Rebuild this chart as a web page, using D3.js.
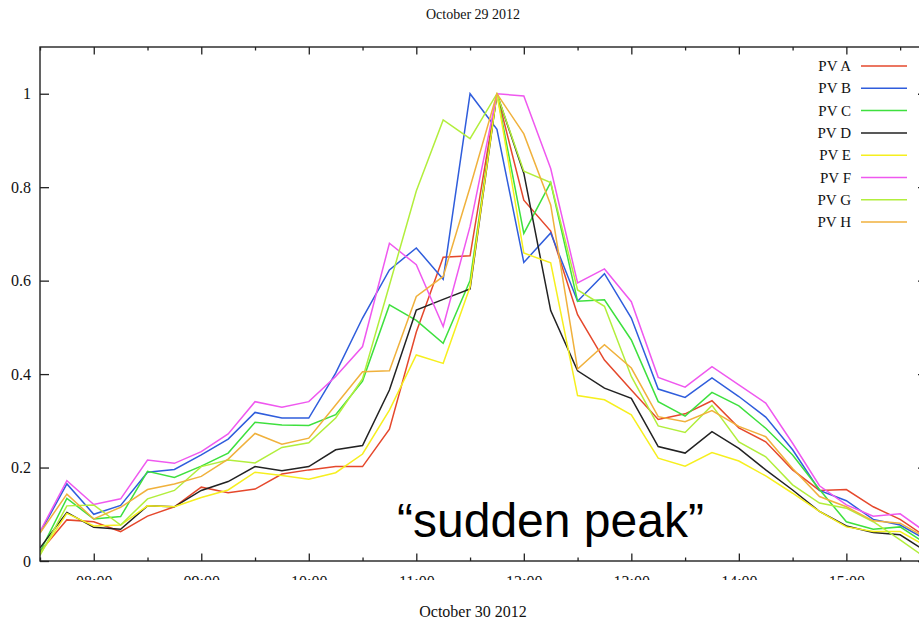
<!DOCTYPE html>
<html>
<head>
<meta charset="utf-8">
<script src="https://cdn.jsdelivr.net/npm/d3@7"></script>
<style>
body { margin: 0; background: #fff; }
svg { display: block; }
</style>
</head>
<body>
<div id="chart"></div>
<script>

// sample times, every 15 minutes
var times = ["07:30","07:45","08:00","08:15","08:30","08:45","09:00","09:15","09:30","09:45",
  "10:00","10:15","10:30","10:45","11:00","11:15","11:30","11:45","12:00","12:15",
  "12:30","12:45","13:00","13:15","13:30","13:45","14:00","14:15","14:30","14:45",
  "15:00","15:15","15:30","15:45"];

var pvA = [0.02,0.088,0.084,0.063,0.096,0.116,0.158,0.146,0.154,0.186,
  0.195,0.202,0.202,0.282,0.49,0.65,0.653,1.0,0.772,0.706,
  0.527,0.43,0.366,0.303,0.315,0.343,0.285,0.255,0.195,0.151,
  0.153,0.116,0.089,0.05];
var pvB = [0.06,0.165,0.1,0.119,0.19,0.196,0.227,0.261,0.318,0.306,
  0.306,0.402,0.52,0.623,0.67,0.603,1.0,0.924,0.639,0.702,
  0.556,0.615,0.52,0.368,0.35,0.392,0.352,0.308,0.238,0.151,
  0.129,0.089,0.077,0.045];
var pvC = [0.02,0.134,0.09,0.095,0.192,0.179,0.203,0.231,0.297,0.291,
  0.29,0.313,0.385,0.548,0.515,0.466,0.6,1.0,0.701,0.81,
  0.556,0.559,0.473,0.341,0.31,0.361,0.332,0.284,0.227,0.153,
  0.084,0.068,0.073,0.036];
var pvD = [0.028,0.104,0.072,0.068,0.118,0.116,0.151,0.17,0.202,0.193,
  0.202,0.238,0.247,0.366,0.537,0.56,0.582,1.0,0.83,0.536,
  0.407,0.37,0.348,0.245,0.231,0.277,0.241,0.195,0.152,0.106,
  0.075,0.061,0.056,0.019];
var pvE = [0.015,0.102,0.075,0.077,0.118,0.116,0.136,0.152,0.19,0.183,
  0.175,0.189,0.229,0.323,0.441,0.423,0.587,1.0,0.659,0.638,
  0.354,0.345,0.313,0.22,0.203,0.232,0.214,0.182,0.145,0.106,
  0.073,0.063,0.063,0.031];
var pvF = [0.063,0.172,0.121,0.133,0.216,0.209,0.234,0.272,0.341,0.329,
  0.341,0.395,0.459,0.68,0.634,0.502,0.716,1.0,0.995,0.84,
  0.595,0.625,0.555,0.393,0.372,0.416,0.377,0.338,0.252,0.161,
  0.12,0.096,0.101,0.06];
var pvG = [0.012,0.118,0.12,0.077,0.133,0.151,0.202,0.216,0.21,0.243,
  0.253,0.306,0.39,0.59,0.792,0.944,0.904,1.0,0.834,0.81,
  0.58,0.545,0.395,0.289,0.275,0.333,0.255,0.223,0.163,0.124,
  0.113,0.084,0.045,0.005];
var pvH = [0.06,0.143,0.09,0.115,0.153,0.165,0.181,0.218,0.273,0.25,
  0.263,0.334,0.405,0.407,0.566,0.609,0.8,1.0,0.914,0.762,
  0.411,0.463,0.413,0.309,0.298,0.322,0.288,0.266,0.198,0.138,
  0.116,0.086,0.081,0.048];

var seriesNames = ["PV A","PV B","PV C","PV D","PV E","PV F","PV G","PV H"];
var seriesColors = ["#e5482c","#2f5ddc","#3ee03e","#222222","#f6ef1e","#ef58ef","#b2ee3c","#f0b13c"];
var seriesValues = [pvA, pvB, pvC, pvD, pvE, pvF, pvG, pvH];

var yTicks = [0, 0.2, 0.4, 0.6, 0.8, 1];
var hourTicks = ["08:00","09:00","10:00","11:00","12:00","13:00","14:00","15:00"];
var halfTicks = ["07:30","08:30","09:30","10:30","11:30","12:30","13:30","14:30","15:30"];

var topTitle = "October 29 2012";
var bottomTitle = "October 30 2012";
var note = "\u201Csudden peak\u201D";

function toHours(s) {
  var p = s.split(":");
  return +p[0] + (+p[1]) / 60;
}

var W = 919, H = 622;
var pLeft = 40, pRight = 927, pTop = 47, pBottom = 561;

var svg = d3.select("#chart").append("svg")
  .attr("width", W)
  .attr("height", H)
  .style("font-family", "'Liberation Serif', 'DejaVu Serif', serif");

var x = d3.scaleLinear().domain([7.5, 15.75]).range([pLeft, pRight]);
var y = d3.scaleLinear().domain([0, 1.1]).range([pBottom, pTop]);

var axisColor = "#222";

// clip for the plot area
svg.append("clipPath").attr("id", "plotclip")
  .append("rect").attr("x", pLeft).attr("y", pTop).attr("width", pRight - pLeft).attr("height", pBottom - pTop);
// x tick labels are cut off half way in the original
svg.append("clipPath").attr("id", "labclip")
  .append("rect").attr("x", 0).attr("y", 0).attr("width", W).attr("height", 580);

// lines
var line = d3.line()
  .x(function(d, i) { return x(toHours(times[i])); })
  .y(function(d) { return y(d); });

var lines = svg.append("g").attr("clip-path", "url(#plotclip)");
seriesValues.forEach(function(vals, k) {
  lines.append("path")
    .datum(vals)
    .attr("d", line)
    .attr("fill", "none")
    .attr("stroke", seriesColors[k])
    .attr("stroke-width", 1.5)
    .attr("stroke-linejoin", "miter");
});

// border
svg.append("rect")
  .attr("x", pLeft).attr("y", pTop)
  .attr("width", pRight - pLeft).attr("height", pBottom - pTop)
  .attr("fill", "none").attr("stroke", axisColor).attr("stroke-width", 1.4);

function styleAxis(g) {
  g.select(".domain").remove();
  g.selectAll(".tick line").attr("stroke", axisColor).attr("stroke-width", 1.3);
}

var hourVals = hourTicks.map(toHours);
var halfVals = halfTicks.map(toHours);

// bottom major with labels (wrapped so the clip works in page coords)
svg.append("g")
  .attr("clip-path", "url(#labclip)")
  .append("g")
  .attr("transform", "translate(0," + pBottom + ")")
  .call(d3.axisBottom(x).tickValues(hourVals).tickSize(-7.5).tickPadding(14.5)
    .tickFormat(function(d, i) { return hourTicks[i]; }))
  .call(styleAxis)
  .selectAll("text")
  .attr("fill", "#111")
  .style("font-size", "16px")
  .style("font-family", "'Liberation Serif', serif");

svg.append("g")
  .attr("transform", "translate(0," + pBottom + ")")
  .call(d3.axisBottom(x).tickValues(halfVals).tickSize(-3.5).tickFormat(""))
  .call(styleAxis);

// top mirror ticks
svg.append("g")
  .attr("transform", "translate(0," + pTop + ")")
  .call(d3.axisTop(x).tickValues(hourVals).tickSize(-7.5).tickFormat(""))
  .call(styleAxis);
svg.append("g")
  .attr("transform", "translate(0," + pTop + ")")
  .call(d3.axisTop(x).tickValues(halfVals).tickSize(-3.5).tickFormat(""))
  .call(styleAxis);

// y axis
svg.append("g")
  .attr("transform", "translate(" + pLeft + ",0)")
  .call(d3.axisLeft(y).tickValues(yTicks).tickSize(-9).tickPadding(9)
    .tickFormat(function(d) { return d === 0 || d === 1 ? String(d) : d.toFixed(1); }))
  .call(styleAxis)
  .selectAll("text")
  .attr("fill", "#111")
  .style("font-size", "16px")
  .style("font-family", "'Liberation Serif', serif");

svg.append("g")
  .attr("transform", "translate(" + pRight + ",0)")
  .call(d3.axisRight(y).tickValues(yTicks).tickSize(-9).tickFormat(""))
  .call(styleAxis);

// titles
svg.append("text")
  .attr("x", 473).attr("y", 19)
  .attr("text-anchor", "middle")
  .style("font-size", "14px")
  .attr("fill", "#111")
  .text(topTitle);

svg.append("text")
  .attr("x", 473).attr("y", 617)
  .attr("text-anchor", "middle")
  .style("font-size", "16px")
  .attr("fill", "#111")
  .text(bottomTitle);

// legend
var legend = svg.append("g").attr("class", "legend");
seriesNames.forEach(function(name, i) {
  var ly = 66 + i * 22.3;
  legend.append("text")
    .attr("x", 851).attr("y", ly + 5)
    .attr("text-anchor", "end")
    .style("font-size", "15px")
    .attr("fill", "#111")
    .text(name);
  legend.append("line")
    .attr("x1", 861).attr("x2", 907)
    .attr("y1", ly).attr("y2", ly)
    .attr("stroke", seriesColors[i])
    .attr("stroke-width", 1.5);
});

// annotation
svg.append("text")
  .attr("x", 397).attr("y", 537)
  .style("font-family", "'Liberation Sans', Arial, sans-serif")
  .style("font-size", "48px")
  .attr("fill", "#000")
  .text(note);

</script>
</body>
</html>
